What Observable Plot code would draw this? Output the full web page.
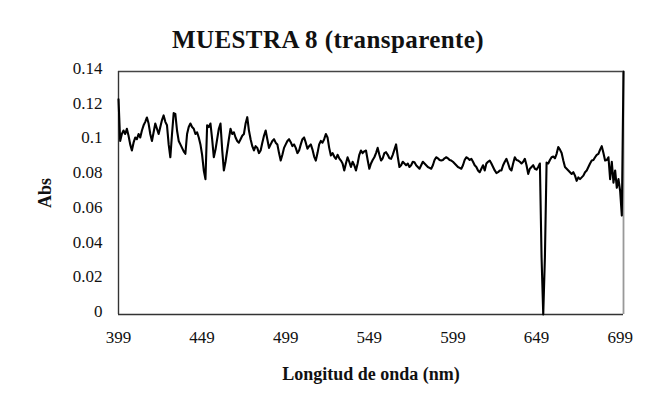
<!DOCTYPE html>
<html>
<head>
<meta charset="utf-8">
<script src="https://cdn.jsdelivr.net/npm/d3@7"></script>
<script src="https://cdn.jsdelivr.net/npm/@observablehq/plot@0.6"></script>
<style>
  html, body { margin: 0; padding: 0; background: #fff; }
  #title {
    width: 656px; height: 56px; box-sizing: border-box;
    padding-top: 28px; line-height: 24px;
    font-family: "Liberation Serif", "Times New Roman", serif;
    font-weight: bold; font-size: 25px; letter-spacing: 0.4px; text-align: center; color: #111;
  }
</style>
</head>
<body>
<div id="title">MUESTRA 8 (transparente)</div>
<div id="chart"></div>
<script>
const chartTitle = "MUESTRA 8 (transparente)";
const xLabel = "Longitud de onda (nm)";
const yLabel = "Abs";

const wavelengthStart = 399; // nm, 1 nm step
const absValues = [
  0.124,0.100,0.104,0.106,0.104,0.107,0.103,0.098,0.0945,0.099,
  0.102,0.101,0.104,0.102,0.106,0.109,0.111,0.1135,0.110,0.104,
  0.100,0.105,0.110,0.107,0.104,0.108,0.112,0.1147,0.111,0.109,
  0.098,0.0906,0.104,0.116,0.1155,0.106,0.100,0.098,0.096,0.094,
  0.0926,0.104,0.108,0.110,0.108,0.107,0.104,0.105,0.102,0.098,
  0.092,0.083,0.078,0.109,0.108,0.110,0.101,0.0906,0.095,0.101,
  0.107,0.110,0.095,0.083,0.088,0.0945,0.101,0.107,0.104,0.105,
  0.102,0.100,0.099,0.101,0.103,0.104,0.110,0.1137,0.106,0.101,
  0.097,0.0945,0.097,0.096,0.093,0.0945,0.099,0.103,0.106,0.101,
  0.096,0.098,0.100,0.101,0.099,0.098,0.093,0.0887,0.092,0.096,
  0.098,0.100,0.101,0.0993,0.097,0.098,0.096,0.093,0.0945,0.098,
  0.101,0.102,0.099,0.0955,0.097,0.098,0.095,0.091,0.0887,0.093,
  0.098,0.100,0.099,0.101,0.104,0.102,0.096,0.0916,0.093,0.091,
  0.0897,0.092,0.090,0.0887,0.087,0.083,0.087,0.0906,0.088,0.085,
  0.088,0.086,0.083,0.087,0.092,0.0945,0.093,0.094,0.0945,0.089,
  0.084,0.087,0.089,0.0906,0.093,0.096,0.092,0.0887,0.090,0.093,
  0.0935,0.092,0.090,0.0897,0.092,0.095,0.098,0.091,0.085,0.086,
  0.088,0.087,0.086,0.087,0.085,0.086,0.088,0.0877,0.086,0.085,
  0.084,0.086,0.088,0.087,0.086,0.085,0.0845,0.084,0.086,0.089,
  0.0906,0.090,0.089,0.0887,0.089,0.090,0.0906,0.090,0.089,0.0887,
  0.088,0.087,0.086,0.085,0.0845,0.084,0.086,0.089,0.0906,0.090,
  0.089,0.0897,0.088,0.086,0.085,0.083,0.082,0.084,0.086,0.083,
  0.087,0.088,0.0887,0.087,0.085,0.083,0.0815,0.082,0.083,0.083,
  0.086,0.088,0.0897,0.087,0.084,0.083,0.087,0.0906,0.089,0.0887,
  0.088,0.087,0.088,0.0897,0.086,0.081,0.084,0.085,0.086,0.084,
  0.0835,0.085,0.087,0.033,0.000,0.033,0.0875,0.087,0.089,0.0906,
  0.091,0.090,0.0926,0.0965,0.095,0.093,0.0887,0.085,0.084,0.083,
  0.082,0.081,0.082,0.080,0.077,0.079,0.078,0.079,0.080,0.082,
  0.083,0.085,0.087,0.0887,0.089,0.0906,0.092,0.0926,0.095,0.097,
  0.093,0.0887,0.089,0.0906,0.078,0.088,0.076,0.083,0.073,0.078,
  0.071,0.057,0.14
];
const xDomain = [399, 701];
const xTicks = [399, 449, 499, 549, 599, 649, 699];
const yTicks = [0, 0.02, 0.04, 0.06, 0.08, 0.1, 0.12, 0.14];
const yTickLabels = ["0", "0.02", "0.04", "0.06", "0.08", "0.1", "0.12", "0.14"];

const data = absValues.map((v, i) => ({nm: wavelengthStart + i, abs: v}));

const chart = Plot.plot({
  width: 656,
  height: 362,
  marginLeft: 118,
  marginRight: 33,
  marginTop: 15,
  marginBottom: 104,
  x: {domain: xDomain},
  y: {domain: [yTicks[0], yTicks[yTicks.length - 1]]},
  style: {
    fontFamily: "'Liberation Serif', 'Times New Roman', serif",
    fontSize: "17px",
    color: "#111",
    background: "#fff",
    overflow: "visible"
  },
  marks: [
    Plot.axisX({ticks: xTicks, tickSize: 0, tickPadding: 16, label: null, tickFormat: d => String(d)}),
    Plot.axisY({ticks: yTicks, tickSize: 0, tickPadding: 16, label: null, dy: -3,
      tickFormat: d => yTickLabels[yTicks.indexOf(d)]}),
    Plot.ruleY([yTicks[0]], {stroke: "#333", strokeWidth: 1.6}),
    Plot.ruleY([yTicks[yTicks.length - 1]], {stroke: "#444", strokeWidth: 1.4}),
    Plot.ruleX([xDomain[0]], {stroke: "#333", strokeWidth: 1.4}),
    Plot.ruleX([xDomain[1]], {stroke: "#999", strokeWidth: 1.8}),
    Plot.line(data, {x: "nm", y: "abs", stroke: "#000", strokeWidth: 2.1}),
    Plot.text([xLabel], {text: d => d, frameAnchor: "bottom", dy: 60, textAnchor: "middle", lineAnchor: "middle",
      fontWeight: "bold", fontSize: 18, fill: "#111"}),
    Plot.text([yLabel], {text: d => d, frameAnchor: "left", dx: -73, rotate: -90, textAnchor: "middle", lineAnchor: "middle",
      fontWeight: "bold", fontSize: 18, fill: "#111"})
  ]
});
document.getElementById("chart").appendChild(chart);
</script>
</body>
</html>
